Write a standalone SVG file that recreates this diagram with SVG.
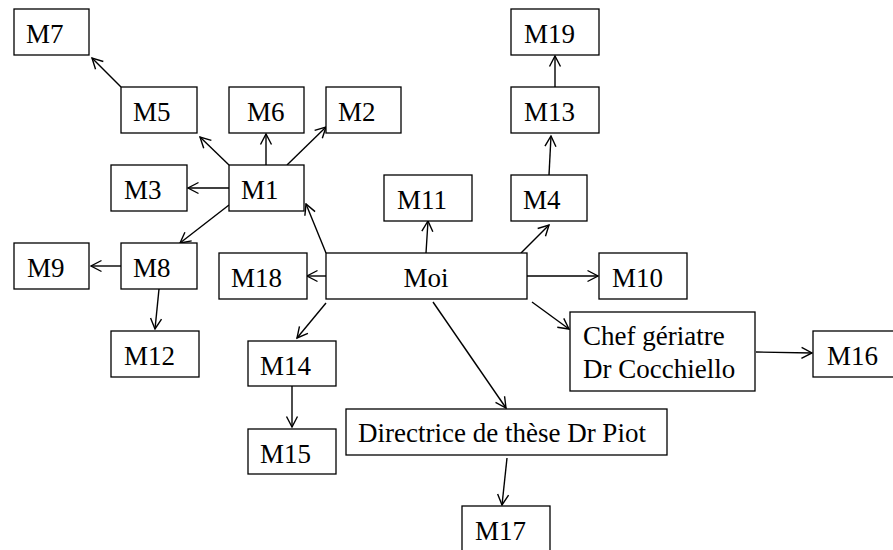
<svg xmlns="http://www.w3.org/2000/svg" width="893" height="550" viewBox="0 0 893 550">
<style>
rect{fill:#fff;stroke:#000;stroke-width:1.3}
text{font-family:'Liberation Serif','Times New Roman',serif;font-size:27px;fill:#000}
#connectors line{stroke:#000;stroke-width:1.4;marker-end:url(#a)}
</style>
<defs>
<marker id="a" viewBox="0 0 14 14" refX="12.5" refY="7" markerWidth="14" markerHeight="14" orient="auto" markerUnits="userSpaceOnUse">
<path d="M2,1.5 L12.5,7 L2,12.5" fill="none" stroke="#000" stroke-width="1.4"/>
</marker>
</defs>
<rect x="0" y="0" width="893" height="550" style="stroke:none"/>
<g id="connectors">
<line x1="121" y1="87" x2="92" y2="58"/>
<line x1="229" y1="165" x2="200" y2="137"/>
<line x1="266" y1="165" x2="266" y2="134"/>
<line x1="287" y1="165" x2="326" y2="127"/>
<line x1="229" y1="188" x2="188" y2="188"/>
<line x1="229" y1="205" x2="180" y2="243"/>
<line x1="121" y1="266" x2="91" y2="266"/>
<line x1="159" y1="289" x2="155" y2="329"/>
<line x1="326" y1="253" x2="306" y2="204"/>
<line x1="426" y1="253" x2="428" y2="221"/>
<line x1="521" y1="253" x2="549" y2="225"/>
<line x1="549" y1="175" x2="551" y2="136"/>
<line x1="555" y1="87" x2="555" y2="56"/>
<line x1="326" y1="276" x2="307" y2="276"/>
<line x1="527" y1="276" x2="598" y2="276"/>
<line x1="326" y1="303" x2="297" y2="338"/>
<line x1="292" y1="386" x2="292" y2="427"/>
<line x1="532" y1="302" x2="569" y2="329"/>
<line x1="433" y1="302" x2="506" y2="408"/>
<line x1="507" y1="458" x2="502" y2="505"/>
<line x1="756" y1="352" x2="812" y2="353"/>
</g>
<g id="M7"><rect x="14" y="9" width="75" height="46"/><text x="26" y="43">M7</text></g>
<g id="M5"><rect x="121" y="87" width="76" height="46"/><text x="133" y="121">M5</text></g>
<g id="M6"><rect x="229" y="87" width="75" height="46"/><text x="247" y="121">M6</text></g>
<g id="M2"><rect x="326" y="87" width="75" height="46"/><text x="338" y="121">M2</text></g>
<g id="M19"><rect x="511" y="9" width="88" height="46"/><text x="524" y="43">M19</text></g>
<g id="M13"><rect x="511" y="87" width="88" height="46"/><text x="524" y="121">M13</text></g>
<g id="M3"><rect x="111" y="165" width="76" height="46"/><text x="124" y="199">M3</text></g>
<g id="M1"><rect x="229" y="165" width="75" height="46"/><text x="241" y="199">M1</text></g>
<g id="M11"><rect x="384" y="175" width="88" height="46"/><text x="397" y="209">M11</text></g>
<g id="M4"><rect x="511" y="175" width="76" height="46"/><text x="523" y="209">M4</text></g>
<g id="M9"><rect x="14" y="243" width="75" height="46"/><text x="27" y="277">M9</text></g>
<g id="M8"><rect x="121" y="243" width="76" height="46"/><text x="133" y="277">M8</text></g>
<g id="M18"><rect x="219" y="253" width="88" height="46"/><text x="231" y="287">M18</text></g>
<g id="Moi"><rect x="326" y="253" width="201" height="46"/><text x="426" y="287" text-anchor="middle">Moi</text></g>
<g id="M10"><rect x="599" y="253" width="88" height="46"/><text x="612" y="287">M10</text></g>
<g id="M12"><rect x="111" y="331" width="88" height="46"/><text x="124" y="365">M12</text></g>
<g id="Chef"><rect x="570" y="312" width="185" height="79"/><text x="583" y="345">Chef gériatre</text><text x="583" y="378">Dr Cocchiello</text></g>
<g id="M16"><rect x="813" y="331" width="88" height="46"/><text x="827" y="365">M16</text></g>
<g id="M14"><rect x="248" y="341" width="88" height="45"/><text x="260" y="375">M14</text></g>
<g id="M15"><rect x="248" y="429" width="88" height="45"/><text x="260" y="463">M15</text></g>
<g id="Directrice"><rect x="346" y="409" width="321" height="46"/><text x="358" y="442">Directrice de thèse Dr Piot</text></g>
<g id="M17"><rect x="462" y="506" width="88" height="46"/><text x="475" y="540">M17</text></g>
</svg>
